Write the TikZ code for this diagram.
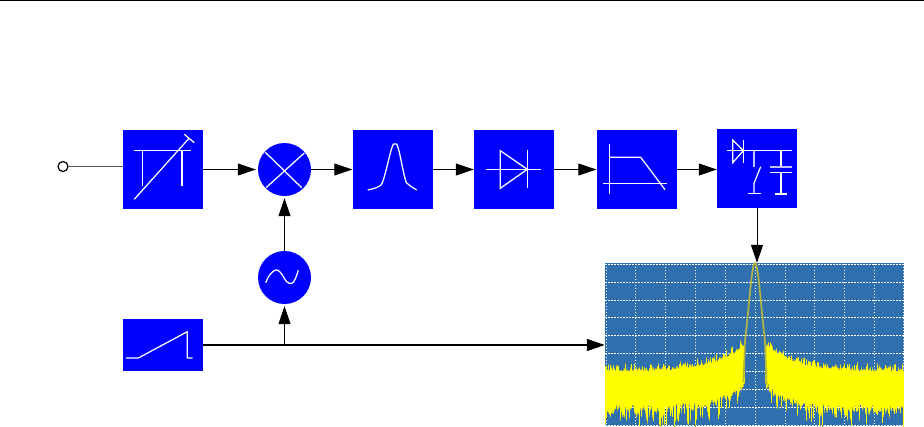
\documentclass[tikz,border=0pt]{standalone}
\usetikzlibrary{arrows.meta, positioning}
\definecolor{cblue}{HTML}{0000FF}
\definecolor{cscreen}{HTML}{3070AE}
\definecolor{cnoise}{HTML}{FFFF00}
\definecolor{ctrace}{HTML}{B4B440}
\definecolor{cgrey}{HTML}{555555}
\tikzset{
  block/.style={draw=none, fill=cblue, inner sep=0pt, minimum width=80pt, minimum height=79pt},
  mix/.style={circle, draw=none, fill=cblue, inner sep=0pt, minimum size=53pt},
  arrow/.style={-{Triangle[length=18pt, width=12pt]}, draw=black, line width=1pt},
  icon/.style={draw=white, line width=1.25pt},
  gridline/.style={draw=white, line width=1pt, dash pattern=on 1.5pt off 1.5pt},
}
\begin{document}
\begin{tikzpicture}[x=1pt, y=-1pt]
  \useasboundingbox (0,0) rectangle (924,426);
  \draw[black, line width=1pt] (0,0.5) -- (924,0.5);
  % blocks
  \node[circle, draw=black, line width=1.2pt, fill=white, inner sep=0pt, minimum size=10pt] (input) at (63,166.5) {};
  \node[block] (tuner) at (163,169.5) {};
  \node[mix] (mixer) at (284.5,169.5) {};
  \node[block] (bandpass) at (392.5,169.5) {};
  \node[block] (diode) at (514,169.5) {};
  \node[block] (lowpass) at (636.5,169.5) {};
  \node[block] (peak) at (757,168.5) {};
  \node[mix] (osc) at (284.5,277.5) {};
  \node[block, minimum height=52pt] (ramp) at (163,345) {};
  \node[rectangle, draw=none, fill=cscreen, inner sep=0pt, minimum width=299pt, minimum height=163pt] (screen) at (754.5,344.5) {};
  % screen grid
  \foreach \xx in {606,635.7,665.7,695.3,725.3,755,785,814.7,844.3,874,903.5}
    \draw[gridline] (\xx,263.5) -- (\xx,426);
  \foreach \yy in {264.3,282.7,300.3,317.7,335.7,353.3,371.3,389,407,425}
    \draw[gridline] (605,\yy) -- (904,\yy);
  % noise floor, one column per pixel
  \pgfmathsetseed{4711}
  \foreach \xx in {605,...,903} {
    \pgfmathsetmacro{\dd}{abs(\xx+0.5-755)}
    \ifdim\dd pt>10pt
      \pgfmathsetmacro{\up}{372-27*exp(-(\dd-10)/30)-7*pow(rnd,2)}
      \pgfmathsetmacro{\low}{405-25*exp(-(\dd-10)/25)+7*rnd}
      \pgfmathsetmacro{\spike}{min(426,\low+20*pow(rnd,4))}
      \draw[ctrace, line width=1.05pt] (\xx+0.5,\up-2*rnd) -- (\xx+0.5,\spike+3*rnd);
      \draw[cnoise, line width=1.05pt] (\xx+0.5,\up) -- (\xx+0.5,\spike);
    \fi
  }
  % carrier peak
  \draw[ctrace, line width=1.7pt] (743.5,382) -- (745,342)
    -- plot[domain=-10:10, samples=30] (755+\x,{371-108*exp(-\x*\x/79)}) -- (765,342) -- (766.5,385);
  % connectors
  \draw[cgrey, line width=1.6pt] (input) -- (input -| tuner.west);
  \draw[arrow, shorten >=2pt] (tuner) -- (mixer);
  \draw[arrow] (mixer) -- (bandpass);
  \draw[arrow] (bandpass) -- (diode);
  \draw[arrow] (diode) -- (lowpass);
  \draw[arrow] (lowpass) -- (lowpass -| peak.west);
  \draw[arrow] (peak.south) -- (peak.south |- screen.north);
  \draw[arrow, line width=1.7pt, -{Triangle[length=18pt, width=12pt]}] (ramp) -- (ramp -| screen.west);
  \coordinate (tap) at (osc |- ramp);
  \draw[arrow, shorten >=2pt] (tap) -- (osc);
  \draw[arrow, shorten >=2pt] (osc) -- (mixer);
  % tuner icon
  \draw[icon] (134.3,199.3) -- (189,138.3);
  \draw[icon] (184.3,134.3) -- (194.3,142.7);
  \draw[icon] (134.3,150.7) -- (190.7,150.7);
  \draw[icon] (142.7,150.7) -- (142.7,186);
  \draw[icon] (182,150.7) -- (182,186);
  % mixer icon
  \draw[icon] (265.3,152.3) -- (301.7,187.7);
  \draw[icon] (304.3,153) -- (266,187.7);
  % oscillator icon
  \draw[icon] plot[smooth, tension=0.7] coordinates {(265.7,282.7) (270,274.5) (275.7,270) (280,272) (283.5,277) (287,282) (291.7,283.3) (295,279.5) (298.3,270.3)};
  % bandpass icon
  \draw[icon] plot[smooth, tension=0.6] coordinates {(367.7,190) (378.3,186.7) (383.3,180) (391.7,148.3) (395,144) (398.3,148.3) (405,178.3) (408.3,184.3) (416.7,190)};
  % diode icon
  \draw[icon] (500.3,150.7) -- (500.3,188.3) -- (527.3,169.3) -- cycle;
  \draw[icon] (527.3,150) -- (527.3,188.3);
  \draw[icon] (486,169.3) -- (541,169.3);
  % lowpass icon
  \draw[icon] (609.3,144) -- (609.3,194.3);
  \draw[icon] (603.3,183.3) -- (666.7,183.3);
  \draw[icon] (609.3,157.3) -- (640.7,157.3) -- (665,189.7);
  % peak detector icon
  \draw[icon] (726.7,150.7) -- (792,150.7);
  \draw[icon] (732.7,140) -- (732.7,162.7) -- (743.3,150.7) -- cycle;
  \draw[icon] (743.3,140) -- (743.3,162.7);
  \draw[icon, line width=1.8pt, white!75!cblue] (754,150.7) -- (754,166.7);
  \draw[icon] (760.7,166.7) -- (754,183.3) -- (754,193.3);
  \draw[icon] (748,193.3) -- (760.7,193.3);
  \draw[icon] (781,150.7) -- (781,166.7);
  \draw[icon, line width=1.8pt, white!75!cblue] (770,167) -- (792,167);
  \draw[icon] (770,172.3) -- (792,172.3);
  \draw[icon] (781,172.3) -- (781,194);
  \draw[icon] (775.3,194) -- (786.7,194);
  % ramp icon
  \draw[icon] (126,358) -- (138.3,358) -- (187.3,331.7) -- (187.3,358) -- (192.7,358);
\end{tikzpicture}
\end{document}
